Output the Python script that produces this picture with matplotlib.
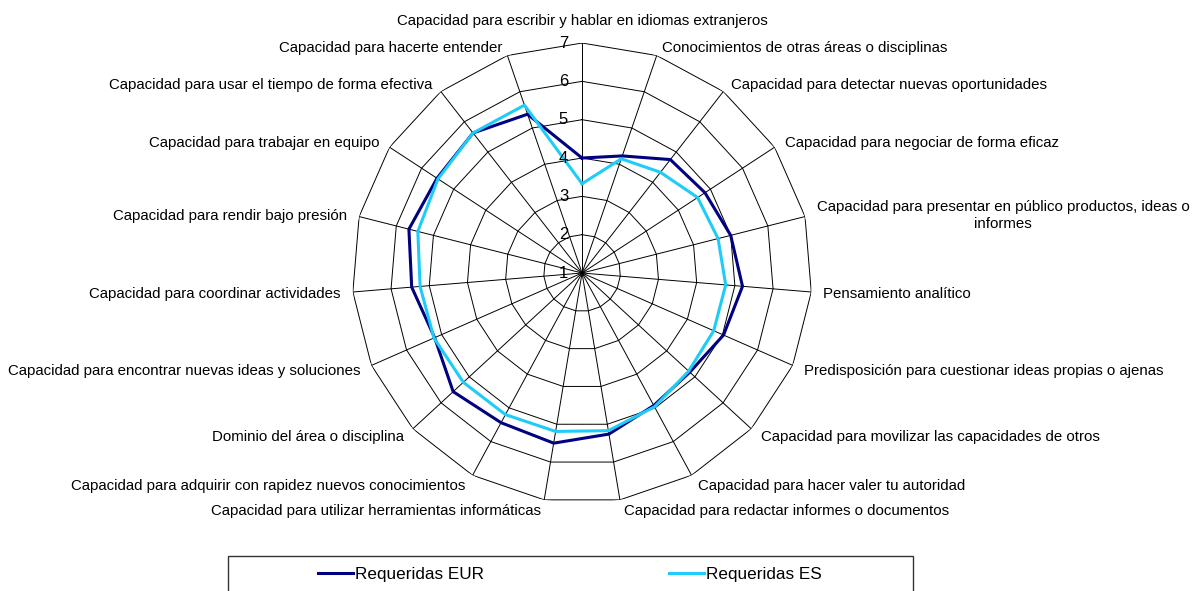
import numpy as np
import matplotlib
matplotlib.use("Agg")
import matplotlib.pyplot as plt
from matplotlib.patches import Rectangle

plt.rcParams["font.family"] = ["Liberation Sans", "DejaVu Sans"]

# Categories, clockwise from the top
categories = [
    "Capacidad para escribir y hablar en idiomas extranjeros",
    "Conocimientos de otras áreas o disciplinas",
    "Capacidad para detectar nuevas oportunidades",
    "Capacidad para negociar de forma eficaz",
    "Capacidad para presentar en público productos, ideas o\ninformes",
    "Pensamiento analítico",
    "Predisposición para cuestionar ideas propias o ajenas",
    "Capacidad para movilizar las capacidades de otros",
    "Capacidad para hacer valer tu autoridad",
    "Capacidad para redactar informes o documentos",
    "Capacidad para utilizar herramientas informáticas",
    "Capacidad para adquirir con rapidez nuevos conocimientos",
    "Dominio del área o disciplina",
    "Capacidad para encontrar nuevas ideas y soluciones",
    "Capacidad para coordinar actividades",
    "Capacidad para rendir bajo presión",
    "Capacidad para trabajar en equipo",
    "Capacidad para usar el tiempo de forma efectiva",
    "Capacidad para hacerte entender",
]

requeridas_eur = [4.00, 4.23, 4.75, 4.83, 5.00, 5.20, 5.03, 4.82, 4.93, 5.26,
                  5.50, 5.44, 5.57, 5.20, 5.46, 5.66, 5.52, 5.63, 5.38]
requeridas_es = [3.33, 4.15, 4.33, 4.60, 4.66, 4.76, 4.75, 4.78, 4.97, 5.17,
                 5.19, 5.20, 5.21, 5.22, 5.24, 5.42, 5.49, 5.63, 5.63]

ticks = [1, 2, 3, 4, 5, 6, 7]
series_names = ["Requeridas EUR", "Requeridas ES"]

n = len(categories)
theta = np.linspace(0, 2 * np.pi, n, endpoint=False)
theta_closed = np.append(theta, theta[0])

fig = plt.figure(figsize=(11.93, 5.91), dpi=100)
ax = fig.add_axes([0.2951, 0.1489, 0.3856, 0.7783], projection="polar")
ax.set_theta_offset(np.pi / 2)
ax.set_theta_direction(-1)
ax.set_ylim(ticks[0], ticks[-1])
ax.axis("off")

# polygon grid and spokes (Excel style)
for r in ticks[1:]:
    ax.plot(theta_closed, [r] * (n + 1), color="black", lw=0.7, zorder=1)
for th in theta:
    ax.plot([th, th], [ticks[0], ticks[-1]], color="black", lw=0.7, zorder=1)

# data series
eur = np.append(requeridas_eur, requeridas_eur[0])
es = np.append(requeridas_es, requeridas_es[0])
l1, = ax.plot(theta_closed, eur, color="#000080", lw=2.2, zorder=3, label=series_names[0])
l2, = ax.plot(theta_closed, es, color="#1ECCF8", lw=2.2, zorder=3, label=series_names[1])

# scale numbers on the top spoke
for t in ticks:
    ax.annotate(str(t), xy=(0, t), xytext=(-14, 0), textcoords="offset pixels",
                ha="right", va="center", fontsize=12, annotation_clip=False)

# category labels
for i, (th, lab) in enumerate(zip(theta, categories)):
    s, c = np.sin(th), np.cos(th)
    if abs(s) < 0.05:
        ha = "center"
        dx, dy = 0, 22
    else:
        ha = "left" if s > 0 else "right"
        dx = 10 * s + 2 * np.sign(s)
        dy = 10 * c - 1.5
    ax.annotate(lab, xy=(th, ticks[-1]), xytext=(dx, dy), textcoords="offset pixels",
                ha=ha, va="center", multialignment="center", fontsize=10.8,
                annotation_clip=False)

# legend box
box = Rectangle((228 / 1193, -0.05), (913 - 228) / 1193, (591 - 556) / 591 + 0.05,
                transform=fig.transFigure, facecolor="white", edgecolor="#333333",
                lw=1.0, zorder=0)
fig.patches.append(box)
fig.legend(handles=[l1, l2], loc="center", bbox_to_anchor=(570 / 1193, 1 - 574 / 591),
           ncol=2, frameon=False, fontsize=12.3, handlelength=2.05,
           handletextpad=0.12, columnspacing=10.8, borderaxespad=0)

fig.savefig("out.png", dpi=100)
